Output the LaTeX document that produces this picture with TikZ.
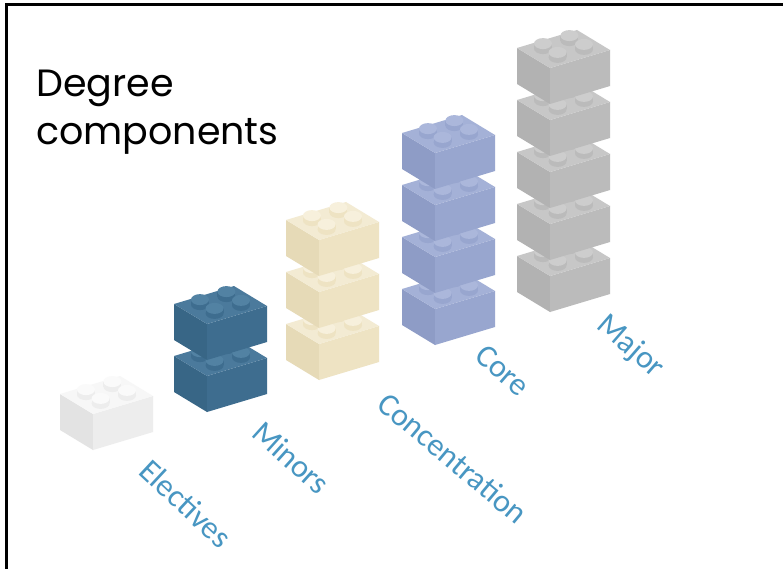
\documentclass[tikz,border=0pt]{standalone}
\usepackage{fontspec}
\newfontfamily\titlefont{Poppins}
\newfontfamily\labelfont{Carlito}
\definecolor{elecT}{HTML}{F7F7F7}\definecolor{elecF}{HTML}{EDEDED}\definecolor{elecL}{HTML}{E3E3E3}\definecolor{elecS}{HTML}{FAFAFA}
\definecolor{minT}{HTML}{4B7A9C}\definecolor{minF}{HTML}{3E6D8F}\definecolor{minL}{HTML}{386686}\definecolor{minS}{HTML}{5282A3}
\definecolor{conT}{HTML}{F3EBD3}\definecolor{conF}{HTML}{EEE3C3}\definecolor{conL}{HTML}{E6DAB7}\definecolor{conS}{HTML}{F7F0DC}
\definecolor{corT}{HTML}{A4B1D7}\definecolor{corF}{HTML}{98A6CF}\definecolor{corL}{HTML}{8E9CC6}\definecolor{corS}{HTML}{ABB7DB}
\definecolor{majT}{HTML}{C7C7C7}\definecolor{majF}{HTML}{BBBBBB}\definecolor{majL}{HTML}{B2B2B2}\definecolor{majS}{HTML}{CDCDCD}
\definecolor{lblblue}{HTML}{4896C2}
\newcommand\legobrick[3]{%
 \begin{scope}[shift={(#1,#2)}]
  \fill[#3L] (0,0) -- (-33,-20) -- (-33,-56) -- (0,-36) -- cycle;
  \fill[#3F] (0,0) -- (60,-18) -- (60,-54) -- (0,-36) -- cycle;
  \fill[#3T] (0,-36) -- (-33,-56) -- (27,-74) -- (60,-54) -- cycle;
  \foreach \sx/\sy in {19.4/-27.4, -7.0/-19.4, 34.0/-18.6, 7.6/-10.6}{
    \fill[#3F] (\sx,-36+\sy) ellipse [x radius=9, y radius=5.5];
    \fill[#3F] (\sx-9,-36+\sy) rectangle (\sx+9,-41+\sy);
    \fill[#3S] (\sx,-41+\sy) ellipse [x radius=9, y radius=5.5];
  }
 \end{scope}}
\tikzset{
  title/.style={anchor=base west, inner sep=0pt, font=\titlefont\fontsize{38}{38}\selectfont},
  lbl/.style={anchor=base west, inner sep=0pt, text=lblblue, font=\labelfont\fontsize{32}{32}\selectfont}
}
\begin{document}
\begin{tikzpicture}[x=1pt,y=-1pt]
\useasboundingbox (0,0) rectangle (783,569);
\fill[white] (0,0) rectangle (783,569);
\draw[line width=3pt, line join=miter] (6,569) -- (6,5) -- (783,5);
\node[title] (t1) at (36,97) {Degree};
\node[title] (t2) at (36,145) {components};
% Electives
\legobrick{93}{450}{elec}
% Minors
\foreach \k in {0,1}{\legobrick{207}{412-52*\k}{min}}
% Concentration
\foreach \k in {0,1,2}{\legobrick{319}{380-52*\k}{con}}
% Core
\foreach \k in {0,...,3}{\legobrick{435}{345-52*\k}{cor}}
% Major
\foreach \k in {0,...,4}{\legobrick{550}{312-52*\k}{maj}}
\node[lbl, rotate=-43] (l1) at (137,473) {Electives};
\node[lbl, rotate=-42] (l2) at (250,435) {Minors};
\node[lbl, rotate=-40] (l3) at (375,407) {Concentration};
\node[lbl, rotate=-41] (l4) at (473,358) {Core};
\node[lbl, rotate=-41] (l5) at (595,327) {Major};
\end{tikzpicture}
\end{document}
